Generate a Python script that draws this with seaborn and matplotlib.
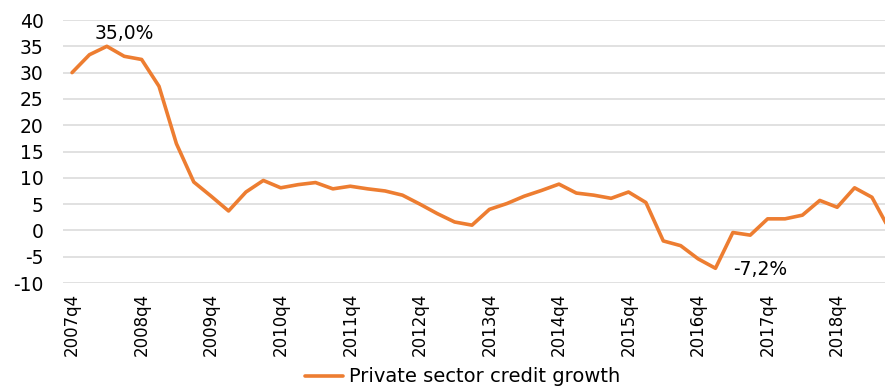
import matplotlib
matplotlib.use("Agg")
import matplotlib.pyplot as plt
import seaborn as sns
import pandas as pd

quarters = ["2007q4",
            "2008q1", "2008q2", "2008q3", "2008q4",
            "2009q1", "2009q2", "2009q3", "2009q4",
            "2010q1", "2010q2", "2010q3", "2010q4",
            "2011q1", "2011q2", "2011q3", "2011q4",
            "2012q1", "2012q2", "2012q3", "2012q4",
            "2013q1", "2013q2", "2013q3", "2013q4",
            "2014q1", "2014q2", "2014q3", "2014q4",
            "2015q1", "2015q2", "2015q3", "2015q4",
            "2016q1", "2016q2", "2016q3", "2016q4",
            "2017q1", "2017q2", "2017q3", "2017q4",
            "2018q1", "2018q2", "2018q3", "2018q4",
            "2019q1", "2019q2", "2019q3"]

credit_growth = [30.0, 33.4, 35.0, 33.1, 32.5, 27.4, 16.5, 9.2,
                 6.5, 3.7, 7.3, 9.5, 8.1, 8.7, 9.1, 7.9,
                 8.4, 7.9, 7.5, 6.7, 5.0, 3.2, 1.6, 1.0,
                 4.0, 5.1, 6.5, 7.6, 8.8, 7.1, 6.7, 6.1,
                 7.3, 5.3, -2.0, -2.9, -5.4, -7.2, -0.4, -0.9,
                 2.2, 2.2, 2.9, 5.7, 4.4, 8.1, 6.3, 0.2]

series_label = "Private sector credit growth"
y_ticks = [-10, -5, 0, 5, 10, 15, 20, 25, 30, 35, 40]

df = pd.DataFrame({"idx": range(len(quarters)), "quarter": quarters,
                   "value": credit_growth})

sns.set_theme(style="white")
plt.rcParams["font.family"] = ["DejaVu Sans"]

fig = plt.figure(figsize=(8.85, 3.87), dpi=100)
ax = fig.add_axes([0.0712, 0.2687, 0.9288, 0.6796])

sns.lineplot(data=df, x="idx", y="value", ax=ax, color="#ED7D31",
             linewidth=2.6, label=series_label)

ax.set_ylim(-10, 40)
ax.set_yticks(y_ticks)
ax.set_yticklabels([str(t) for t in y_ticks], fontsize=13.5, color="black")

tick_idx = [i for i, q in enumerate(quarters) if q.endswith("q4")]
ax.set_xticks(tick_idx)
ax.set_xticklabels([quarters[i] for i in tick_idx], rotation=90,
                   fontsize=12, color="black")
ax.set_xlim(-0.52, 46.75)

ax.set_xlabel("")
ax.set_ylabel("")
ax.yaxis.grid(True, color="#D9D9D9", linewidth=1.1)
ax.xaxis.grid(False)
for s in ax.spines.values():
    s.set_visible(False)
ax.tick_params(axis="y", length=0, pad=14)
ax.tick_params(axis="x", length=0, pad=7)

# annotations for max and min
imax = max(range(len(credit_growth)), key=lambda i: credit_growth[i])
imin = min(range(len(credit_growth)), key=lambda i: credit_growth[i])
fmt = lambda v: f"{v:.1f}%".replace(".", ",")
ax.text(imax + 1.0, credit_growth[imax] + 2.5, fmt(credit_growth[imax]),
        ha="center", va="center", fontsize=13.5, color="black")
ax.text(imin + 2.6, credit_growth[imin] - 0.2, fmt(credit_growth[imin]),
        ha="center", va="center", fontsize=13.5, color="black")

leg = ax.legend(loc="center", bbox_to_anchor=(0.5226, 0.026),
                bbox_transform=fig.transFigure, frameon=False, fontsize=14,
                handlelength=2.0, handletextpad=0.3)
for t in leg.get_texts():
    t.set_color("black")

fig.savefig("out.png", dpi=100)
